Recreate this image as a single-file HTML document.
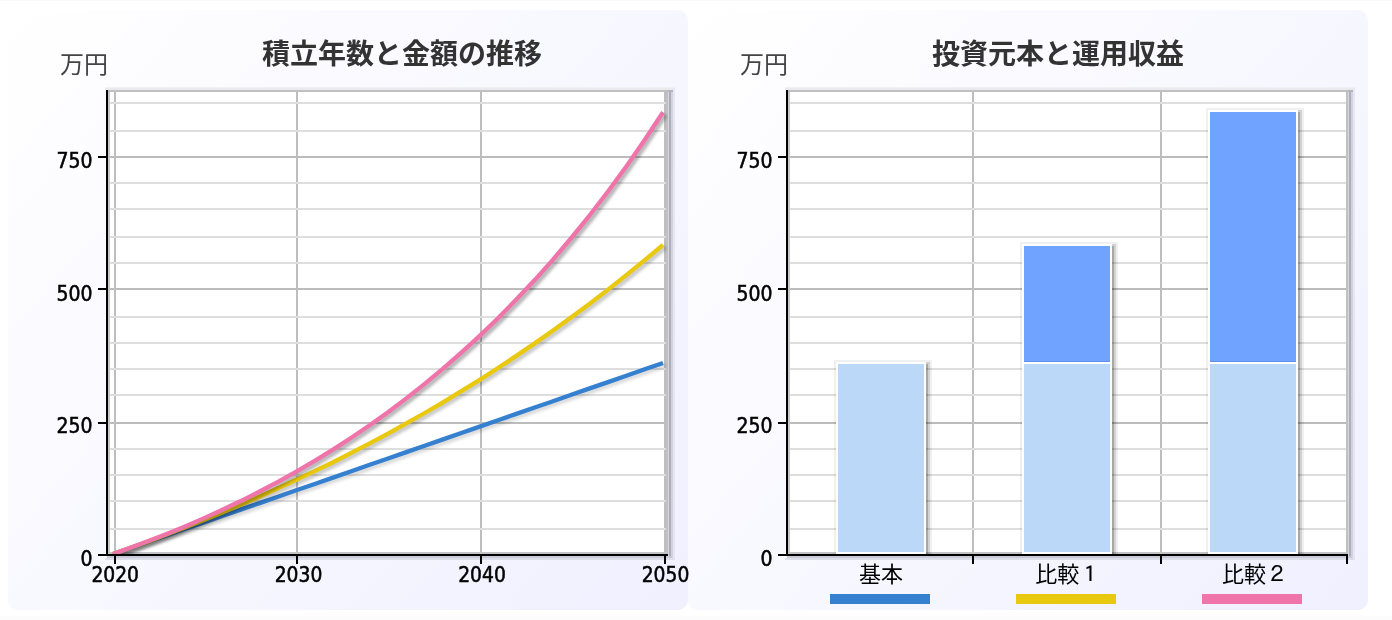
<!DOCTYPE html>
<html lang="ja">
<head>
<meta charset="utf-8">
<title>積立シミュレーション</title>
<style>
html,body{margin:0;padding:0;background:#fff;}
body{width:1392px;height:620px;overflow:hidden;}
svg{display:block;}
.num{font-family:"DejaVu Sans Condensed","DejaVu Sans","Liberation Sans",sans-serif;font-size:22px;fill:#000;stroke:#000;stroke-width:0.55px;}
.jp{font-family:"Liberation Sans","Noto Sans CJK JP",sans-serif;font-size:22px;fill:#000;}
.fw{font-family:"IPAGothic","Noto Sans CJK JP",sans-serif;stroke:#000;stroke-width:0.12px;}
.unit{font-family:"Liberation Sans","Noto Sans CJK JP",sans-serif;font-size:24px;fill:#444;}
.title{font-family:"Liberation Sans","Noto Sans CJK JP",sans-serif;font-size:28px;font-weight:bold;fill:#333;}
</style>
</head>
<body>
<svg width="1392" height="620" viewBox="0 0 1392 620">
<defs>
<linearGradient id="bgL" gradientUnits="userSpaceOnUse" x1="8" y1="10" x2="688" y2="610"><stop offset="0" stop-color="#ffffff"/><stop offset="1" stop-color="#f0f0ff"/></linearGradient>
<linearGradient id="bgR" gradientUnits="userSpaceOnUse" x1="688" y1="10" x2="1368" y2="610"><stop offset="0" stop-color="#ffffff"/><stop offset="1" stop-color="#f0f0ff"/></linearGradient>
<filter id="blur1" x="-5%" y="-5%" width="110%" height="110%"><feGaussianBlur stdDeviation="1.5"/></filter>
<filter id="blur2" x="-20%" y="-5%" width="140%" height="110%"><feGaussianBlur stdDeviation="1.5"/></filter>
<clipPath id="clipL"><rect x="108" y="92" width="560" height="462"/></clipPath>
</defs>
<rect x="0" y="0" width="1392" height="620" fill="#fff"/>
<rect x="0" y="0" width="1392" height="1" fill="#f8f8f8"/>
<rect x="0" y="616" width="1392" height="4" fill="#fcfcfc"/>
<rect x="8" y="10" width="680" height="600" rx="10" ry="10" fill="url(#bgL)"/>
<rect x="688" y="10" width="680" height="600" rx="10" ry="10" fill="url(#bgR)"/>

<g id="chart-line">
<rect x="108" y="92" width="558" height="462" fill="#fff"/>
<rect x="105" y="87" width="570" height="1" fill="#f1f1f4"/>
<rect x="105" y="88" width="570" height="2" fill="#eaeaee"/>
<rect x="114" y="92" width="2" height="462" fill="#bebebe"/>
<rect x="296" y="92" width="2" height="462" fill="#bebebe"/>
<rect x="480" y="92" width="2" height="462" fill="#bebebe"/>
<rect x="664" y="92" width="2" height="462" fill="#bebebe"/>
<rect x="108" y="92" width="2" height="462" fill="#c8c8c8"/>
<rect x="110" y="102" width="556" height="2" fill="#dedede"/>
<rect x="110" y="130" width="556" height="2" fill="#dedede"/>
<rect x="110" y="156" width="556" height="2" fill="#bcbcbc"/>
<rect x="110" y="182" width="556" height="2" fill="#dedede"/>
<rect x="110" y="208" width="556" height="2" fill="#dedede"/>
<rect x="110" y="236" width="556" height="2" fill="#dedede"/>
<rect x="110" y="262" width="556" height="2" fill="#dedede"/>
<rect x="110" y="288" width="556" height="2" fill="#bcbcbc"/>
<rect x="110" y="316" width="556" height="2" fill="#dedede"/>
<rect x="110" y="342" width="556" height="2" fill="#dedede"/>
<rect x="110" y="368" width="556" height="2" fill="#dedede"/>
<rect x="110" y="394" width="556" height="2" fill="#dedede"/>
<rect x="110" y="422" width="556" height="2" fill="#bcbcbc"/>
<rect x="110" y="448" width="556" height="2" fill="#dedede"/>
<rect x="110" y="474" width="556" height="2" fill="#dedede"/>
<rect x="110" y="500" width="556" height="2" fill="#dedede"/>
<rect x="110" y="528" width="556" height="2" fill="#dedede"/>
<rect x="108" y="90" width="560" height="2" fill="#c0c0c0"/>
<rect x="108" y="552" width="558" height="2" fill="#c4c4c4"/>
<rect x="666" y="90" width="2" height="466" fill="#c0c0c0"/>
<rect x="668" y="90" width="1" height="468" fill="#d6d6de"/>
<rect x="669" y="91" width="2" height="467" fill="#adadbb"/>
<rect x="671" y="90" width="2" height="470" fill="#d2d2e0"/>
<rect x="673" y="89" width="2" height="471" fill="#e6e6f2"/>
<rect x="668" y="90" width="5" height="2" fill="#b4b4c2"/>
<g clip-path="url(#clipL)">
<polyline points="113.0,554.0 131.3,547.6 149.7,541.3 168.0,534.9 186.3,528.5 204.7,522.2 223.0,515.8 241.3,509.4 259.7,503.1 278.0,496.7 296.3,490.3 314.7,484.0 333.0,477.6 351.3,471.2 369.7,464.8 388.0,458.5 406.3,452.1 424.7,445.7 443.0,439.4 461.3,433.0 479.7,426.6 498.0,420.3 516.3,413.9 534.7,407.5 553.0,401.2 571.3,394.8 589.7,388.4 608.0,382.1 626.3,375.7 644.7,369.3 663.0,363.0" fill="none" stroke="#000" stroke-opacity="0.14" stroke-width="5" transform="translate(2.4,2.4)" filter="url(#blur1)"/>
<polyline points="113.0,554.0 131.3,547.6 149.7,541.3 168.0,534.9 186.3,528.5 204.7,522.2 223.0,515.8 241.3,509.4 259.7,503.1 278.0,496.7 296.3,490.3 314.7,484.0 333.0,477.6 351.3,471.2 369.7,464.8 388.0,458.5 406.3,452.1 424.7,445.7 443.0,439.4 461.3,433.0 479.7,426.6 498.0,420.3 516.3,413.9 534.7,407.5 553.0,401.2 571.3,394.8 589.7,388.4 608.0,382.1 626.3,375.7 644.7,369.3 663.0,363.0" fill="none" stroke="#3680d0" stroke-width="4.3" stroke-linejoin="round"/>
<polyline points="113.0,554.0 131.3,547.5 149.7,540.9 168.0,534.0 186.3,527.0 204.7,519.7 223.0,512.2 241.3,504.5 259.7,496.5 278.0,488.3 296.3,479.8 314.7,471.1 333.0,462.2 351.3,452.9 369.7,443.4 388.0,433.6 406.3,423.4 424.7,413.0 443.0,402.3 461.3,391.2 479.7,379.8 498.0,368.0 516.3,355.9 534.7,343.4 553.0,330.6 571.3,317.3 589.7,303.7 608.0,289.6 626.3,275.1 644.7,260.2 663.0,244.8" fill="none" stroke="#000" stroke-opacity="0.21" stroke-width="5" transform="translate(2.4,2.4)" filter="url(#blur1)"/>
<polyline points="113.0,554.0 131.3,547.5 149.7,540.9 168.0,534.0 186.3,527.0 204.7,519.7 223.0,512.2 241.3,504.5 259.7,496.5 278.0,488.3 296.3,479.8 314.7,471.1 333.0,462.2 351.3,452.9 369.7,443.4 388.0,433.6 406.3,423.4 424.7,413.0 443.0,402.3 461.3,391.2 479.7,379.8 498.0,368.0 516.3,355.9 534.7,343.4 553.0,330.6 571.3,317.3 589.7,303.7 608.0,289.6 626.3,275.1 644.7,260.2 663.0,244.8" fill="none" stroke="#e9c810" stroke-width="4.3" stroke-linejoin="round"/>
<polyline points="113.0,554.0 131.3,547.5 149.7,540.6 168.0,533.4 186.3,525.9 204.7,517.9 223.0,509.5 241.3,500.8 259.7,491.5 278.0,481.8 296.3,471.6 314.7,460.9 333.0,449.6 351.3,437.7 369.7,425.3 388.0,412.2 406.3,398.4 424.7,383.9 443.0,368.7 461.3,352.7 479.7,335.9 498.0,318.2 516.3,299.6 534.7,280.1 553.0,259.6 571.3,238.0 589.7,215.3 608.0,191.5 626.3,166.4 644.7,140.0 663.0,112.3" fill="none" stroke="#000" stroke-opacity="0.29" stroke-width="5" transform="translate(2.4,2.4)" filter="url(#blur1)"/>
<polyline points="113.0,554.0 131.3,547.5 149.7,540.6 168.0,533.4 186.3,525.9 204.7,517.9 223.0,509.5 241.3,500.8 259.7,491.5 278.0,481.8 296.3,471.6 314.7,460.9 333.0,449.6 351.3,437.7 369.7,425.3 388.0,412.2 406.3,398.4 424.7,383.9 443.0,368.7 461.3,352.7 479.7,335.9 498.0,318.2 516.3,299.6 534.7,280.1 553.0,259.6 571.3,238.0 589.7,215.3 608.0,191.5 626.3,166.4 644.7,140.0 663.0,112.3" fill="none" stroke="#ee74aa" stroke-width="4.3" stroke-linejoin="round"/>
</g>
<rect x="107" y="556" width="565" height="2" fill="#c9c9d6"/>
<rect x="105" y="558" width="569" height="2" fill="#dedeea"/>
<rect x="106" y="90" width="2" height="466" fill="#000"/>
<rect x="98" y="554" width="570" height="2" fill="#000"/>
<rect x="98" y="156" width="8" height="2" fill="#000"/>
<rect x="98" y="288" width="8" height="2" fill="#000"/>
<rect x="98" y="422" width="8" height="2" fill="#000"/>
<rect x="114" y="556" width="2" height="8" fill="#000"/>
<rect x="296" y="556" width="2" height="8" fill="#000"/>
<rect x="480" y="556" width="2" height="8" fill="#000"/>
<rect x="664" y="556" width="2" height="8" fill="#000"/>
<text x="92.6" y="168.2" text-anchor="end" textLength="36.0" lengthAdjust="spacingAndGlyphs" class="num">750</text>
<text x="92.6" y="301.1" text-anchor="end" textLength="36.0" lengthAdjust="spacingAndGlyphs" class="num">500</text>
<text x="92.6" y="433.4" text-anchor="end" textLength="36.0" lengthAdjust="spacingAndGlyphs" class="num">250</text>
<text x="92.6" y="566" text-anchor="end" textLength="12.0" lengthAdjust="spacingAndGlyphs" class="num">0</text>
<text x="115.2" y="582" text-anchor="middle" textLength="47.6" lengthAdjust="spacingAndGlyphs" class="num">2020</text>
<text x="298.5" y="582" text-anchor="middle" textLength="47.6" lengthAdjust="spacingAndGlyphs" class="num">2030</text>
<text x="482" y="582" text-anchor="middle" textLength="47.6" lengthAdjust="spacingAndGlyphs" class="num">2040</text>
<text x="665.5" y="582" text-anchor="middle" textLength="47.6" lengthAdjust="spacingAndGlyphs" class="num">2050</text>
<text x="108" y="73" text-anchor="end" class="unit">万円</text>
<text x="402" y="64" text-anchor="middle" class="title">積立年数と金額の推移</text>
</g>
<g id="chart-bar">
<rect x="788" y="92" width="558" height="462" fill="#fff"/>
<rect x="785" y="87" width="570" height="1" fill="#f1f1f4"/>
<rect x="785" y="88" width="570" height="2" fill="#eaeaee"/>
<rect x="972" y="92" width="2" height="462" fill="#bebebe"/>
<rect x="1160" y="92" width="2" height="462" fill="#bebebe"/>
<rect x="788" y="92" width="2" height="462" fill="#c8c8c8"/>
<rect x="790" y="102" width="556" height="2" fill="#dedede"/>
<rect x="790" y="130" width="556" height="2" fill="#dedede"/>
<rect x="790" y="156" width="556" height="2" fill="#bcbcbc"/>
<rect x="790" y="182" width="556" height="2" fill="#dedede"/>
<rect x="790" y="208" width="556" height="2" fill="#dedede"/>
<rect x="790" y="236" width="556" height="2" fill="#dedede"/>
<rect x="790" y="262" width="556" height="2" fill="#dedede"/>
<rect x="790" y="288" width="556" height="2" fill="#bcbcbc"/>
<rect x="790" y="316" width="556" height="2" fill="#dedede"/>
<rect x="790" y="342" width="556" height="2" fill="#dedede"/>
<rect x="790" y="368" width="556" height="2" fill="#dedede"/>
<rect x="790" y="394" width="556" height="2" fill="#dedede"/>
<rect x="790" y="422" width="556" height="2" fill="#bcbcbc"/>
<rect x="790" y="448" width="556" height="2" fill="#dedede"/>
<rect x="790" y="474" width="556" height="2" fill="#dedede"/>
<rect x="790" y="500" width="556" height="2" fill="#dedede"/>
<rect x="790" y="528" width="556" height="2" fill="#dedede"/>
<rect x="788" y="90" width="560" height="2" fill="#c0c0c0"/>
<rect x="788" y="552" width="558" height="2" fill="#c4c4c4"/>
<rect x="1346" y="90" width="2" height="466" fill="#c0c0c0"/>
<rect x="1348" y="90" width="1" height="468" fill="#d6d6de"/>
<rect x="1349" y="91" width="2" height="467" fill="#adadbb"/>
<rect x="1351" y="90" width="2" height="470" fill="#d2d2e0"/>
<rect x="1353" y="89" width="2" height="471" fill="#e6e6f2"/>
<rect x="1348" y="90" width="5" height="2" fill="#b4b4c2"/>
<rect x="834" y="360" width="98" height="196" fill="#000" opacity="0.06"/>
<rect x="926" y="364" width="2" height="190" fill="#000" opacity="0.30"/>
<rect x="926" y="362" width="2" height="2" fill="#000" opacity="0.12"/>
<rect x="928" y="362" width="2" height="192" fill="#000" opacity="0.12"/>
<rect x="836" y="362" width="90" height="192" fill="#fff"/>
<rect x="838" y="364" width="86" height="188" fill="#bcd8f8"/>
<rect x="1020" y="242" width="98" height="314" fill="#000" opacity="0.06"/>
<rect x="1112" y="246" width="2" height="308" fill="#000" opacity="0.30"/>
<rect x="1112" y="244" width="2" height="2" fill="#000" opacity="0.12"/>
<rect x="1114" y="244" width="2" height="310" fill="#000" opacity="0.12"/>
<rect x="1022" y="244" width="90" height="310" fill="#fff"/>
<rect x="1024" y="246" width="86" height="116" fill="#70a2ff"/>
<rect x="1024" y="361" width="86" height="1" fill="#5f90ee"/>
<rect x="1024" y="364" width="86" height="188" fill="#bcd8f8"/>
<rect x="1206" y="108" width="98" height="448" fill="#000" opacity="0.06"/>
<rect x="1298" y="112" width="2" height="442" fill="#000" opacity="0.30"/>
<rect x="1298" y="110" width="2" height="2" fill="#000" opacity="0.12"/>
<rect x="1300" y="110" width="2" height="444" fill="#000" opacity="0.12"/>
<rect x="1208" y="110" width="90" height="444" fill="#fff"/>
<rect x="1210" y="112" width="86" height="250" fill="#70a2ff"/>
<rect x="1210" y="361" width="86" height="1" fill="#5f90ee"/>
<rect x="1210" y="364" width="86" height="188" fill="#bcd8f8"/>
<rect x="787" y="556" width="565" height="2" fill="#c9c9d6"/>
<rect x="785" y="558" width="569" height="2" fill="#dedeea"/>
<rect x="786" y="90" width="2" height="466" fill="#000"/>
<rect x="778" y="554" width="570" height="2" fill="#000"/>
<rect x="778" y="156" width="8" height="2" fill="#000"/>
<rect x="778" y="288" width="8" height="2" fill="#000"/>
<rect x="778" y="422" width="8" height="2" fill="#000"/>
<rect x="972" y="556" width="2" height="8" fill="#000"/>
<rect x="1160" y="556" width="2" height="8" fill="#000"/>
<rect x="1346" y="556" width="2" height="8" fill="#000"/>
<text x="772.6" y="168.2" text-anchor="end" textLength="36.0" lengthAdjust="spacingAndGlyphs" class="num">750</text>
<text x="772.6" y="301.1" text-anchor="end" textLength="36.0" lengthAdjust="spacingAndGlyphs" class="num">500</text>
<text x="772.6" y="433.4" text-anchor="end" textLength="36.0" lengthAdjust="spacingAndGlyphs" class="num">250</text>
<text x="772.6" y="566" text-anchor="end" textLength="12.0" lengthAdjust="spacingAndGlyphs" class="num">0</text>
<text x="881" y="582" text-anchor="middle" class="jp">基本</text>
<rect x="830" y="594" width="100" height="10" fill="#3680d0"/>
<text x="1068.2" y="582" text-anchor="middle" class="jp">比較<tspan class="fw">１</tspan></text>
<rect x="1016" y="594" width="100" height="10" fill="#e9c810"/>
<text x="1255" y="582" text-anchor="middle" class="jp">比較<tspan class="fw">２</tspan></text>
<rect x="1202" y="594" width="100" height="10" fill="#ee74aa"/>
<text x="788" y="73" text-anchor="end" class="unit">万円</text>
<text x="1058" y="64" text-anchor="middle" class="title">投資元本と運用収益</text>
</g>
</svg>
</body>
</html>
